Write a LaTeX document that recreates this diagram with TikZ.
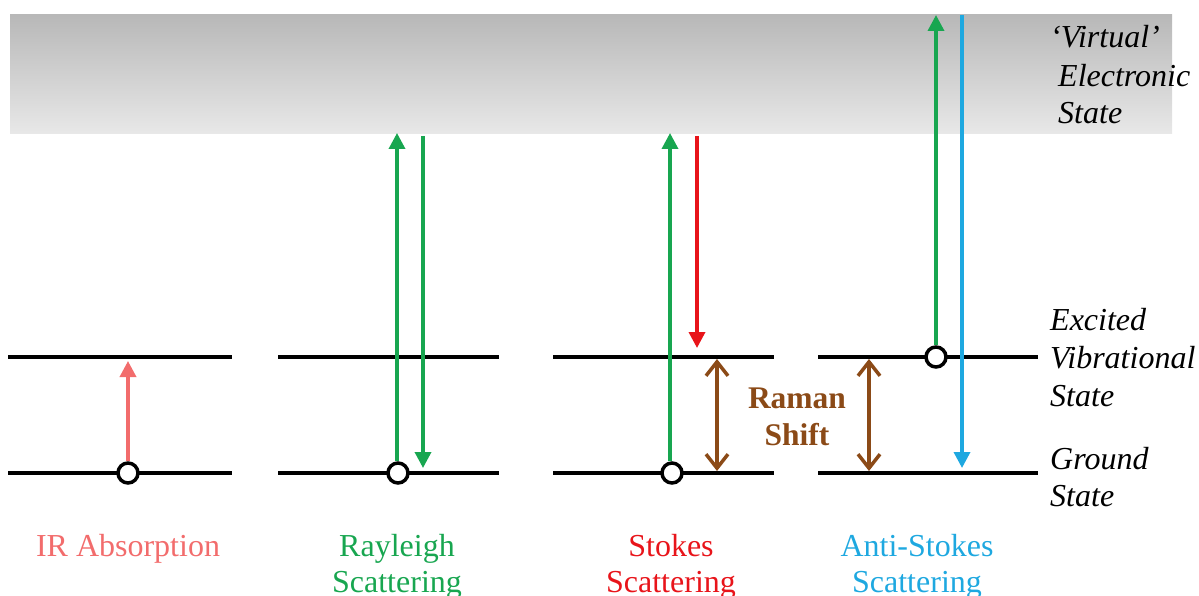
\documentclass[tikz,border=0pt]{standalone}
\usepackage{fontspec}
\setmainfont{Liberation Serif}
\usetikzlibrary{arrows.meta}
\definecolor{irpink}{RGB}{242,108,108}
\definecolor{raygreen}{RGB}{24,166,80}
\definecolor{stokesred}{RGB}{232,20,26}
\definecolor{antiblue}{RGB}{30,168,224}
\definecolor{shiftbrown}{RGB}{139,74,23}
\definecolor{bandtop}{RGB}{184,184,184}
\definecolor{bandbot}{RGB}{232,232,232}
\tikzset{
  level/.style={line width=3.5pt, line cap=butt},
  molecule/.style={circle, draw=black, line width=3.5pt, fill=white, minimum size=20pt, inner sep=0pt},
  photon/.style={line width=3.5pt, -{Triangle[length=16pt,width=16pt]}},
  shiftarrow/.style={line width=3.5pt, draw=shiftbrown, {Straight Barb[length=14pt,width=22pt,line width=3.5pt]}-{Straight Barb[length=14pt,width=22pt,line width=3.5pt]}},
  sidelabel/.style={anchor=base west, inner sep=0pt, font=\fontsize{32}{38}\selectfont\itshape},
  caption/.style={anchor=base, inner sep=0pt, align=center, font=\fontsize{32}{38}\selectfont},
  shiftlabel/.style={anchor=base, inner sep=0pt, text=shiftbrown, font=\fontsize{31.5}{38}\selectfont\bfseries},
}
\begin{document}
\begin{tikzpicture}[x=1pt, y=-1pt]
\useasboundingbox (0,0) rectangle (1199,596);
% virtual electronic state band
\shade[top color=bandtop, bottom color=bandbot] (10,15) rectangle (1172,134);

% vibrational levels
\foreach \xa/\xb in {8/232, 278/499, 553/774, 818/1038}{
  \draw[level] (\xa,357) -- (\xb,357);
  \draw[level] (\xa,473) -- (\xb,473);
}

% molecules
\node[molecule] (irm) at (128,473) {};
\node[molecule] (raym) at (398,473) {};
\node[molecule] (stm) at (672,473) {};
\node[molecule] (asm) at (936,357) {};

% IR absorption
\coordinate (irtop) at (128,361);
\draw[photon, draw=irpink, fill=irpink] (irm) -- (irtop);

% Rayleigh scattering
\coordinate (rayup) at (397,133);
\coordinate (raydownA) at (423,136);
\coordinate (raydownB) at (423,468);
\draw[photon, draw=raygreen, fill=raygreen] (raym.north -| rayup) -- (rayup);
\draw[photon, draw=raygreen, fill=raygreen] (raydownA) -- (raydownB);

% Stokes scattering
\coordinate (stup) at (670,133);
\coordinate (stdownA) at (697,136);
\coordinate (stdownB) at (697,348);
\draw[photon, draw=raygreen, fill=raygreen] (stm.north -| stup) -- (stup);
\draw[photon, draw=stokesred, fill=stokesred] (stdownA) -- (stdownB);

% Anti-Stokes scattering
\coordinate (asup) at (936,15);
\coordinate (asdownA) at (962,15);
\coordinate (asdownB) at (962,468);
\draw[photon, draw=raygreen, fill=raygreen] (asm.north) -- (asup);
\draw[photon, draw=antiblue, fill=antiblue] (asdownA) -- (asdownB);

% Raman shift
\coordinate (rsA) at (717,359);
\coordinate (rsB) at (717,471);
\coordinate (rsC) at (869,359);
\coordinate (rsD) at (869,471);
\draw[shiftarrow] (rsA) -- (rsB);
\draw[shiftarrow] (rsC) -- (rsD);
\node[shiftlabel] (ram) at (797,408) {Raman};
\node[shiftlabel] (shf) at (797,445) {Shift};

% state labels
\node[sidelabel] (l1) at (1050,48) {‘Virtual’};
\node[sidelabel] (l2) at (1058,87) {Electronic};
\node[sidelabel] (l3) at (1058,124) {State};
\node[sidelabel] (l4) at (1050,330) {Excited};
\node[sidelabel] (l5) at (1050,368) {Vibrational};
\node[sidelabel] (l6) at (1050,406) {State};
\node[sidelabel] (l7) at (1050,469) {Ground};
\node[sidelabel] (l8) at (1050,506) {State};

% process captions
\node[caption, text=irpink] (c1) at (128,556) {IR Absorption};
\node[caption, text=raygreen] (c2a) at (397,556) {Rayleigh};
\node[caption, text=raygreen] (c2b) at (397,592) {Scattering};
\node[caption, text=stokesred] (c3a) at (671,556) {Stokes};
\node[caption, text=stokesred] (c3b) at (671,592) {Scattering};
\node[caption, text=antiblue] (c4a) at (917,556) {Anti-Stokes};
\node[caption, text=antiblue] (c4b) at (917,592) {Scattering};
\end{tikzpicture}
\end{document}
